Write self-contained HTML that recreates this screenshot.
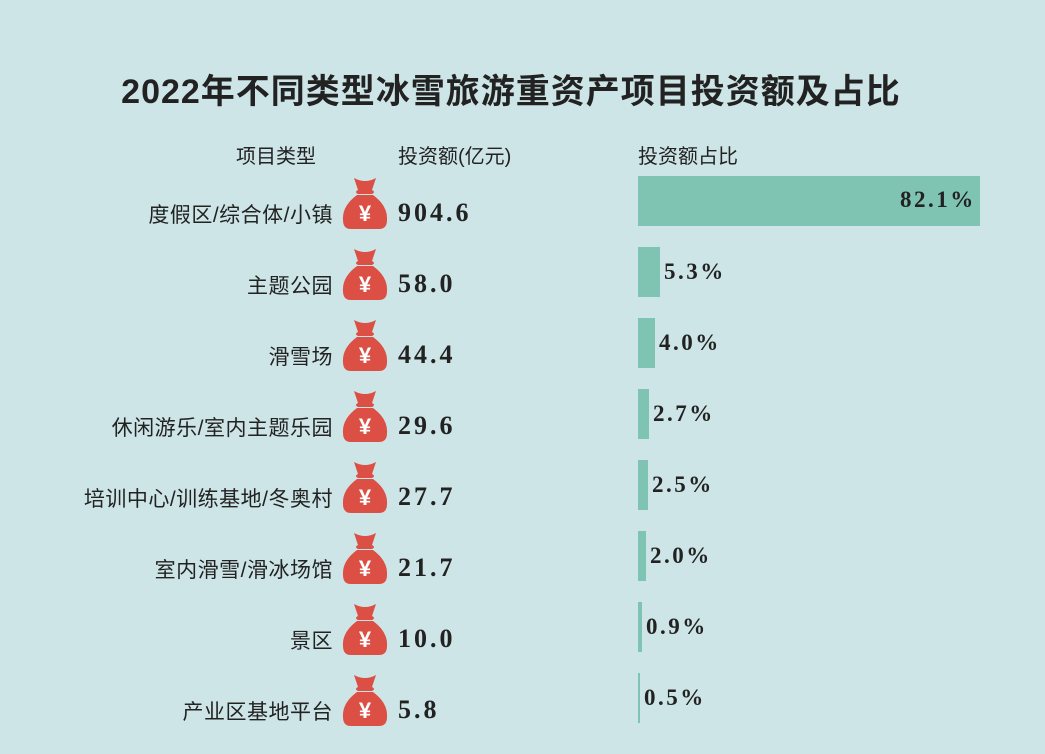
<!DOCTYPE html>
<html><head><meta charset="utf-8"><style>
body{margin:0;width:1045px;height:754px;background:#cde5e7;position:relative;overflow:hidden;font-family:"Liberation Serif","Noto Serif CJK SC",serif;color:#222}
.t{position:absolute;white-space:nowrap}
.title{left:0;width:1022px;text-align:center;top:64px;font-size:34px;font-weight:bold;font-family:"Liberation Sans","Noto Sans CJK SC",sans-serif;letter-spacing:1px}
.h{top:140px;font-size:20px;font-family:"Liberation Sans","Noto Sans CJK SC",sans-serif}
.lab{right:712px;font-size:21px;font-family:"Liberation Sans","Noto Sans CJK SC",sans-serif;text-align:right;letter-spacing:0.5px}
.val{left:398px;font-size:26px;font-weight:bold;letter-spacing:3px}
.bar{position:absolute;left:638px;height:50px;background:#7fc4b3}
.pct{font-size:23px;font-weight:bold;letter-spacing:2.5px}
.bag{position:absolute;left:342px;width:46px;height:54px}
</style></head><body>
<div class="t title">2022年不同类型冰雪旅游重资产项目投资额及占比</div>
<div class="t h" style="left:236px">项目类型</div>
<div class="t h" style="left:398px">投资额(亿元)</div>
<div class="t h" style="left:638px">投资额占比</div>
<svg width="0" height="0" style="position:absolute"><defs><g id="b">
<path d="M12 2 Q23 8 34 2 L30 14 Q34 16 30 18 L16 18 Q12 16 16 14 Z" fill="#db4f44"/>
<path d="M15 19 L31 19 Q46 30 45 44 Q45 53 37 53 L9 53 Q1 53 1 44 Q0 30 15 19Z" fill="#db4f44"/>
<text x="23" y="45" font-size="22" font-weight="bold" fill="#fff" text-anchor="middle" font-family="Liberation Sans,sans-serif">¥</text>
</g></defs></svg>
<div id="rows"></div>
<script>
var d=[["度假区/综合体/小镇","904.6",82.1],["主题公园","58.0",5.3],["滑雪场","44.4",4.0],["休闲游乐/室内主题乐园","29.6",2.7],["培训中心/训练基地/冬奥村","27.7",2.5],["室内滑雪/滑冰场馆","21.7",2.0],["景区","10.0",0.9],["产业区基地平台","5.8",0.5]];
var h="";
d.forEach(function(r,i){var y=176+i*71;var w=Math.max(2,Math.round(r[2]*4.17));
h+='<div class="t lab" style="top:'+(y+23)+'px">'+r[0]+'</div>';
h+='<svg class="bag" style="top:'+y+'px" viewBox="0 0 46 54"><use href="#b"/></svg>';
h+='<div class="t val" style="top:'+(y+22)+'px">'+r[1]+'</div>';
h+='<div class="bar" style="top:'+y+'px;width:'+w+'px"></div>';
var pt=r[2].toFixed(1)+'%';
if(i==0)h+='<div class="t pct" style="top:'+(y+11)+'px;left:900px">'+pt+'</div>';
else h+='<div class="t pct" style="top:'+(y+12)+'px;left:'+(638+w+4)+'px">'+pt+'</div>';
});
document.getElementById("rows").innerHTML=h;
</script>
</body></html>
